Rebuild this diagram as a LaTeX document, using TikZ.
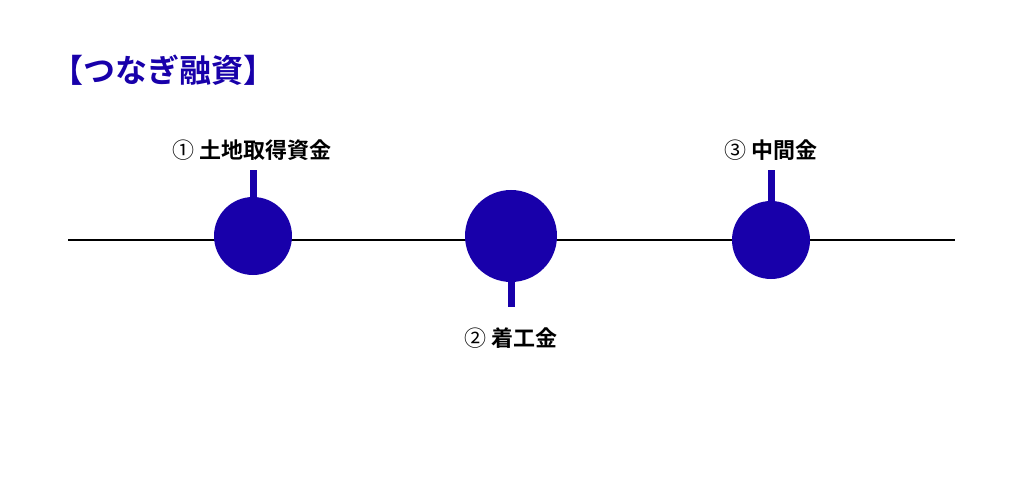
\documentclass[tikz,border=0pt]{standalone}
\usepackage{fontspec}
\usepackage{xcolor}
\usetikzlibrary{backgrounds}
\newfontfamily\jpfont{Noto Sans CJK JP}[BoldFont=* Bold]
\definecolor{loanblue}{RGB}{24,0,170}

\begin{document}
\begin{tikzpicture}
  [x=1pt,y=-1pt,every node/.style={circle,fill=loanblue,inner sep=0pt},
   stem/.style={line width=7pt,loanblue},
   lbl/.style={rectangle,fill=none,font=\jpfont\bfseries\fontsize{22}{24}\selectfont}]
  \useasboundingbox (0,0) rectangle (1024,478);

  \node[lbl,text=loanblue,font=\jpfont\bfseries\fontsize{32}{34}\selectfont] (title) at (163,70) {【つなぎ融資】};

  \coordinate (start) at (68,240);
  \coordinate (end) at (955,240);
  \draw[line width=2.8pt,black] (start) -- (end);

  \node[minimum size=78pt] (c1) at (253,236) {};
  \node[minimum size=92pt] (c2) at (511,236) {};
  \node[minimum size=78pt] (c3) at (771,240) {};

  \coordinate (s1) at (253,170);
  \coordinate (s2) at (511,307);
  \coordinate (s3) at (771,170);

  \begin{scope}[on background layer]
  \foreach \c/\s in {c1/s1,c2/s2,c3/s3}
    \draw[stem] (\c) -- (\s);
  \end{scope}

  \node[lbl] (l1) at (252,150) {{\mdseries ①} 土地取得資金};
  \node[lbl] (l2) at (511,338) {{\mdseries ②} 着工金};
  \node[lbl] (l3) at (771,150) {{\mdseries ③} 中間金};

\end{tikzpicture}
\end{document}
